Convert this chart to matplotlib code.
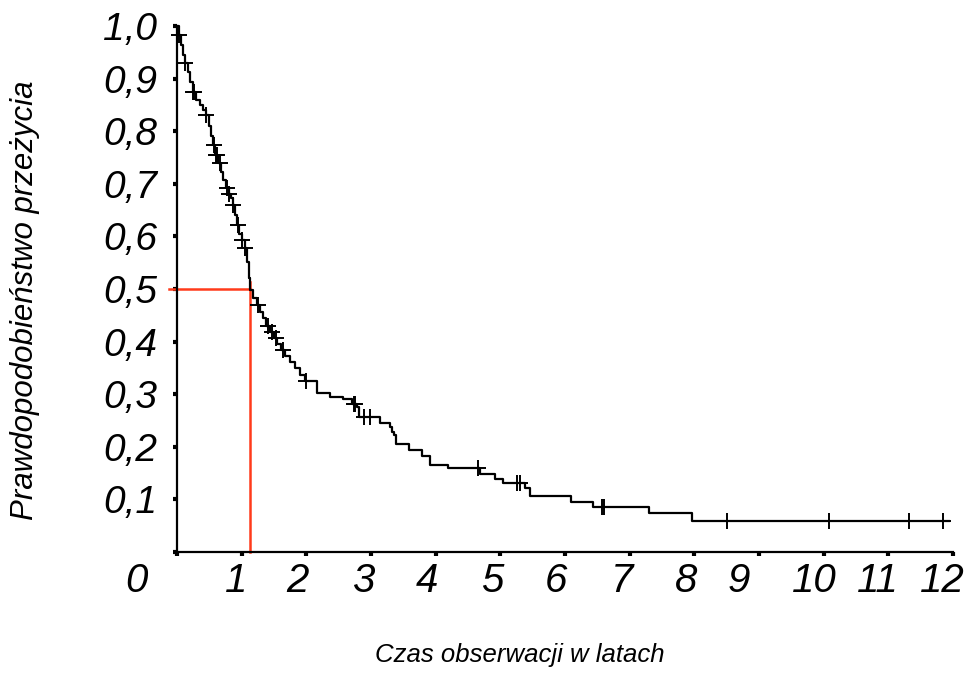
import numpy as np
import matplotlib
matplotlib.use("Agg")
import matplotlib.pyplot as plt
import matplotlib.transforms as mtransforms

# Kaplan-Meier step curve (event times in years, survival after the event)
event_times = [0, 0.03, 0.06, 0.09, 0.12, 0.17, 0.20, 0.25, 0.29, 0.36, 0.40, 0.45,
               0.49, 0.53, 0.56, 0.59, 0.63, 0.68, 0.71, 0.76, 0.80, 0.84, 0.87, 0.90,
               0.93, 0.96, 1.00, 1.05, 1.08, 1.11, 1.13, 1.18, 1.24, 1.28, 1.33, 1.38,
               1.44, 1.50, 1.55, 1.61, 1.67, 1.75, 1.82, 1.90, 1.98, 2.16, 2.37, 2.57,
               2.70, 2.78, 2.81, 3.14, 3.29, 3.33, 3.36, 3.38, 3.59, 3.79, 3.91, 4.19,
               4.68, 4.92, 5.04, 5.38, 5.46, 6.10, 6.44, 7.30, 7.96]
survival = [1.0, 0.983, 0.964, 0.945, 0.93, 0.913, 0.894, 0.875, 0.86, 0.85, 0.84, 0.83,
            0.81, 0.79, 0.774, 0.755, 0.74, 0.722, 0.707, 0.692, 0.68, 0.673, 0.66, 0.64,
            0.622, 0.605, 0.593, 0.578, 0.551, 0.521, 0.498, 0.483, 0.47, 0.456, 0.445, 0.43,
            0.418, 0.407, 0.395, 0.384, 0.373, 0.361, 0.35, 0.337, 0.325, 0.302, 0.295, 0.290,
            0.282, 0.276, 0.257, 0.245, 0.237, 0.228, 0.222, 0.205, 0.194, 0.183, 0.166, 0.159,
            0.148, 0.139, 0.131, 0.122, 0.106, 0.095, 0.086, 0.074, 0.059]
end_time = 11.94

# censored observations (years)
censor_times = [0.03, 0.12, 0.25, 0.26, 0.45, 0.57, 0.60, 0.62, 0.66, 0.78, 0.80, 0.87,
                0.95, 1.01, 1.05, 1.25, 1.41, 1.47, 1.53, 1.64, 2.00, 2.73, 2.76, 2.90,
                2.98, 4.66, 5.26, 5.31, 6.57, 6.60, 8.50, 10.08, 11.32, 11.84]

median_time = 1.13
median_surv = 0.5

x_ticks = list(range(13))
x_labels = [str(v) for v in x_ticks]
x_label_pos = [-0.63, 0.91, 1.87, 2.88, 3.87, 4.87, 5.86, 6.88, 7.87, 8.69, 9.86, 10.84, 11.84]
y_ticks = [round(0.1 * i, 1) for i in range(11)]
y_labels = ["", "0,1", "0,2", "0,3", "0,4", "0,5", "0,6", "0,7", "0,8", "0,9", "1,0"]

plt.rcParams['font.family'] = ['Liberation Sans', 'DejaVu Sans']

fig = plt.figure(figsize=(9.67, 6.91), dpi=100)
ax = fig.add_axes([0.183, 0.2012, 0.8025, 0.7612])

t = np.array(event_times + [end_time])
s = np.array(survival + [survival[-1]])
ax.step(t, s, where='post', color='black', lw=1.6, zorder=3, clip_on=False)

et = np.array(event_times)
sv = np.array(survival)
cy = [sv[np.searchsorted(et, c, side='right') - 1] for c in censor_times]
ax.plot(censor_times, cy, linestyle='none', marker='+', color='black',
        markersize=12, markeredgewidth=1.4, zorder=4, clip_on=False)

red = '#ff3a1a'
ax.plot([median_time, median_time], [0, 0.513], color=red, lw=1.8, zorder=2, clip_on=False)
ax.plot([-0.12, median_time], [median_surv, median_surv], color=red, lw=1.8, zorder=2, clip_on=False)

for side in ['top', 'right']:
    ax.spines[side].set_visible(False)
for side in ['left', 'bottom']:
    ax.spines[side].set_linewidth(1.6)

ax.set_yticks(y_ticks)
ax.set_yticklabels(y_labels, fontsize=28, style='italic')
ax.tick_params(axis='y', direction='out', length=3, width=3, pad=11.5)

ax.set_xticks(x_ticks)
ax.set_xticklabels([])
ax.tick_params(axis='x', direction='out', length=3, width=3)
ax.set_xlim(0, 12)
ax.set_ylim(0, 1.0)

trans = mtransforms.blended_transform_factory(ax.transData, ax.transAxes)
offset = mtransforms.ScaledTranslation(0, -29 / 100, fig.dpi_scale_trans)
for pos, lab in zip(x_label_pos, x_labels):
    ax.text(pos, 0, lab, transform=trans + offset, fontsize=29, style='italic',
            ha='center', va='center', clip_on=False)

fig.text(0.026, 0.566, "Prawdopodobieństwo przeżycia", rotation=90, fontsize=22.5,
         style='italic', ha='center', va='center')
fig.text(0.538, 0.052, "Czas obserwacji w latach", fontsize=18.5, style='italic',
         ha='center', va='center')

fig.savefig("out.png", dpi=100)
